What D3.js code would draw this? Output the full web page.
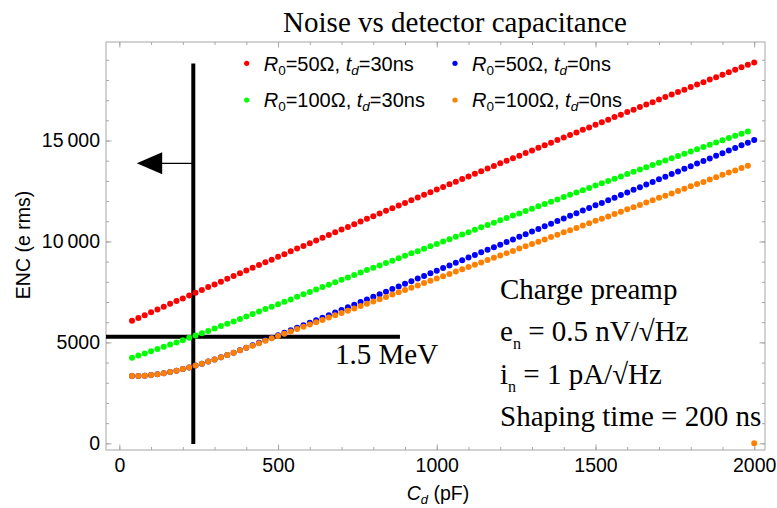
<!DOCTYPE html>
<html>
<head>
<meta charset="utf-8">
<script src="https://cdn.jsdelivr.net/npm/d3@7"></script>
<style>
  body { margin: 0; background: #fff; }
  svg { display: block; }
</style>
</head>
<body>
<div id="chart"></div>
<script>
// detector capacitance (pF), one sample every 20 pF
const capacitance = [40,60,80,100,120,140,160,180,200,220,240,260,280,300,320,340,360,380,400,420,
  440,460,480,500,520,540,560,580,600,620,640,660,680,700,720,740,760,780,800,820,
  840,860,880,900,920,940,960,980,1000,1020,1040,1060,1080,1100,1120,1140,1160,1180,1200,1220,
  1240,1260,1280,1300,1320,1340,1360,1380,1400,1420,1440,1460,1480,1500,1520,1540,1560,1580,1600,1620,
  1640,1660,1680,1700,1720,1740,1760,1780,1800,1820,1840,1860,1880,1900,1920,1940,1960,1980,2000];

// ENC (e rms)
const encR50td30 = [6070,6210,6350,6490,6630,6770,6910,7050,7180,7320,
  7460,7600,7740,7870,8010,8150,8290,8420,8560,8700,
  8830,8970,9100,9240,9370,9510,9650,9780,9910,10050,
  10180,10320,10450,10590,10720,10850,10990,11120,11250,11380,
  11520,11650,11780,11910,12040,12180,12310,12440,12570,12700,
  12830,12960,13090,13220,13350,13480,13610,13740,13870,14000,
  14120,14250,14380,14510,14640,14760,14890,15020,15150,15270,
  15400,15530,15650,15780,15900,16030,16160,16280,16410,16530,
  16660,16780,16900,17030,17150,17280,17400,17520,17650,17770,
  17890,18020,18140,18260,18380,18500,18630,18750,18870];
const encR100td30 = [4240,4350,4450,4560,4670,4780,4890,5000,5110,5230,
  5340,5450,5570,5690,5810,5920,6040,6160,6280,6410,
  6530,6650,6770,6890,7010,7130,7260,7380,7500,7620,
  7740,7860,7980,8100,8220,8340,8460,8580,8700,8810,
  8930,9050,9170,9290,9410,9520,9640,9760,9880,10000,
  10110,10230,10350,10460,10580,10700,10810,10930,11050,11160,
  11280,11390,11510,11620,11740,11850,11970,12080,12200,12310,
  12430,12540,12650,12770,12880,13000,13110,13220,13340,13450,
  13560,13670,13790,13900,14010,14120,14230,14350,14460,14570,
  14680,14790,14900,15010,15120,15230,15340,15450];
const encR50td0 = [3330,3340,3350,3380,3420,3470,3530,3600,3680,3760,
  3850,3940,4050,4150,4260,4370,4490,4610,4730,4860,
  4980,5110,5230,5350,5480,5600,5720,5850,5970,6100,
  6220,6350,6480,6610,6740,6870,7000,7130,7260,7390,
  7510,7640,7770,7900,8030,8160,8290,8420,8550,8680,
  8810,8940,9070,9200,9330,9460,9590,9710,9840,9970,
  10100,10230,10360,10490,10620,10750,10880,11010,11140,11270,
  11400,11530,11660,11790,11910,12040,12170,12300,12430,12560,
  12690,12820,12950,13080,13210,13340,13470,13600,13730,13860,
  13980,14110,14240,14370,14500,14630,14760,14890,15020];
const encR100td0 = [3330,3340,3350,3380,3420,3470,3530,3600,3680,3760,
  3850,3940,4050,4150,4260,4370,4490,4610,4730,4840,
  4960,5080,5200,5320,5430,5540,5660,5770,5890,6000,
  6110,6230,6340,6460,6570,6680,6800,6910,7030,7140,
  7250,7370,7480,7600,7710,7820,7940,8050,8170,8280,
  8390,8510,8620,8740,8850,8960,9080,9190,9310,9420,
  9530,9650,9760,9880,9990,10100,10220,10330,10450,10560,
  10670,10790,10900,11020,11130,11240,11360,11470,11590,11700,
  11810,11930,12040,12160,12270,12380,12500,12610,12730,12840,
  12950,13070,13180,13300,13410,13520,13640,13750,0];

const seriesR0 = ["50Ω", "100Ω", "50Ω", "100Ω"];
const seriesTd = ["30ns", "30ns", "0ns", "0ns"];
const seriesColor = ["#ff0000", "#00ff00", "#0000ff", "#ff8000"];

const xTicks = [0, 500, 1000, 1500, 2000];
const xTickLabels = ["0", "500", "1000", "1500", "2000"];
const yTicks = [0, 5000, 10000, 15000];
const yTickLabels = ["0", "5000", "10\u2009000", "15\u2009000"];

const W = 777, H = 508;
const margin = { top: 42, right: 12, bottom: 58, left: 106 };
const sans = "'Liberation Sans', Arial, Helvetica, sans-serif";
const serif = "'Liberation Serif', 'Times New Roman', Times, serif";
const frameColor = "#a6a6a6";

const svg = d3.select("#chart").append("svg")
  .attr("width", W).attr("height", H);
svg.append("rect").attr("width", W).attr("height", H).attr("fill", "#fff");

const x = d3.scaleLinear().domain([-42, 2034]).range([margin.left, W - margin.right]);
const y = d3.scaleLinear().domain([-330, 19880]).range([H - margin.bottom, margin.top]);

// frame
svg.append("rect")
  .attr("x", x.range()[0]).attr("y", y.range()[1])
  .attr("width", x.range()[1] - x.range()[0])
  .attr("height", y.range()[0] - y.range()[1])
  .attr("fill", "none").attr("stroke", frameColor).attr("stroke-width", 1);

const xMinor = d3.range(0, 2001, 100);
const yMinor = d3.range(0, 19001, 1000);

// ticks on all four sides, pointing inwards
function tickAxis(axisFn, scale, values, size, translate, labels, pad) {
  const ax = axisFn(scale).tickValues(values).tickSize(-size).tickPadding(pad || 0);
  ax.tickFormat(labels ? (d, i) => labels[i] : () => "");
  const g = svg.append("g").attr("transform", translate).call(ax);
  g.select(".domain").remove();
  g.selectAll("line").attr("stroke", frameColor);
  g.selectAll("text").attr("fill", "#000").attr("font-family", sans).attr("font-size", 19.5);
  return g;
}
const bottomT = "translate(0," + y.range()[0] + ")";
const topT = "translate(0," + y.range()[1] + ")";
const leftT = "translate(" + x.range()[0] + ",0)";
const rightT = "translate(" + x.range()[1] + ",0)";

tickAxis(d3.axisBottom, x, xMinor, 3, bottomT);
tickAxis(d3.axisBottom, x, xTicks, 5.5, bottomT, xTickLabels, 8);
tickAxis(d3.axisTop, x, xMinor, 3, topT);
tickAxis(d3.axisTop, x, xTicks, 5.5, topT);
tickAxis(d3.axisLeft, y, yMinor, 3, leftT);
tickAxis(d3.axisLeft, y, yTicks, 5.5, leftT, yTickLabels, 6);
tickAxis(d3.axisRight, y, yMinor, 3, rightT);
tickAxis(d3.axisRight, y, yTicks, 5.5, rightT);

// axis labels
svg.append("text")
  .attr("transform", "translate(30,245) rotate(-90)")
  .attr("text-anchor", "middle")
  .attr("font-family", sans).attr("font-size", 19.5)
  .text("ENC (e rms)");
const xl = svg.append("text")
  .attr("x", 438).attr("y", 500)
  .attr("text-anchor", "middle")
  .attr("font-family", sans).attr("font-size", 19.5);
xl.append("tspan").attr("font-style", "italic").text("C");
xl.append("tspan").attr("font-style", "italic").attr("font-size", 13).attr("dy", 4).text("d");
xl.append("tspan").attr("dy", -4).text(" (pF)");

// title
svg.append("text")
  .attr("x", 455).attr("y", 31.5)
  .attr("text-anchor", "middle")
  .attr("font-family", serif).attr("font-size", 29)
  .text("Noise vs detector capacitance");

// guide lines (1.5 MeV marker)
svg.append("line")
  .attr("x1", x(-42)).attr("x2", x(884))
  .attr("y1", y(5280)).attr("y2", y(5280))
  .attr("stroke", "#000").attr("stroke-width", 4);
svg.append("line")
  .attr("x1", x(233)).attr("x2", x(233))
  .attr("y1", y(-35)).attr("y2", y(18820))
  .attr("stroke", "#000").attr("stroke-width", 4);
svg.append("line")
  .attr("x1", x(130)).attr("x2", x(233))
  .attr("y1", y(13870)).attr("y2", y(13870))
  .attr("stroke", "#000").attr("stroke-width", 1.3);
const ay = y(13870);
svg.append("path")
  .attr("d", "M" + x(55) + "," + ay + "L" + x(135) + "," + (ay - 11) + "L" + x(135) + "," + (ay + 11) + "Z")
  .attr("fill", "#000");

// points
const encSeries = [encR50td30, encR100td30, encR50td0, encR100td0];
encSeries.forEach(function (vals, s) {
  svg.append("g")
    .selectAll("circle")
    .data(vals)
    .enter()
    .append("circle")
    .attr("cx", (d, i) => x(capacitance[i]))
    .attr("cy", (d) => y(d))
    .attr("r", 3)
    .attr("fill", seriesColor[s]);
});

// legend: two columns, row-wise (red, blue / green, orange)
const legendPos = [[0, 0], [0, 1], [1, 0], [1, 1]];
const colX = [246.7, 455], rowY = [63.3, 100];
seriesColor.forEach(function (c, s) {
  const cx = colX[legendPos[s][0]], cy = rowY[legendPos[s][1]];
  svg.append("circle").attr("cx", cx).attr("cy", cy).attr("r", 2.6).attr("fill", c);
  const t = svg.append("text")
    .attr("x", cx + 17).attr("y", cy + 7.4)
    .attr("font-family", sans).attr("font-size", 20);
  t.append("tspan").attr("font-style", "italic").text("R");
  t.append("tspan").attr("font-size", 13.5).attr("dy", 4).text("0");
  t.append("tspan").attr("dy", -4).text("=" + seriesR0[s] + ", ");
  t.append("tspan").attr("font-style", "italic").text("t");
  t.append("tspan").attr("font-style", "italic").attr("font-size", 13.5).attr("dy", 4).text("d");
  t.append("tspan").attr("dy", -4).text("=" + seriesTd[s]);
});

// annotations
svg.append("text")
  .attr("x", 335).attr("y", 364)
  .attr("font-family", serif).attr("font-size", 29)
  .text("1.5 MeV");

const notes = svg.append("g").attr("font-family", serif).attr("font-size", 29);
notes.append("text").attr("x", 500).attr("y", 299).text("Charge preamp");
const en = notes.append("text").attr("x", 500).attr("y", 341);
en.append("tspan").text("e");
en.append("tspan").attr("font-size", 16).attr("dy", 8).text("n");
en.append("tspan").attr("dy", -8).text(" = 0.5 nV/\u221AHz");
const inn = notes.append("text").attr("x", 500).attr("y", 384);
inn.append("tspan").text("i");
inn.append("tspan").attr("font-size", 16).attr("dy", 8).text("n");
inn.append("tspan").attr("dy", -8).text(" = 1 pA/\u221AHz");
notes.append("text").attr("x", 500).attr("y", 426).text("Shaping time = 200 ns");
</script>
</body>
</html>
